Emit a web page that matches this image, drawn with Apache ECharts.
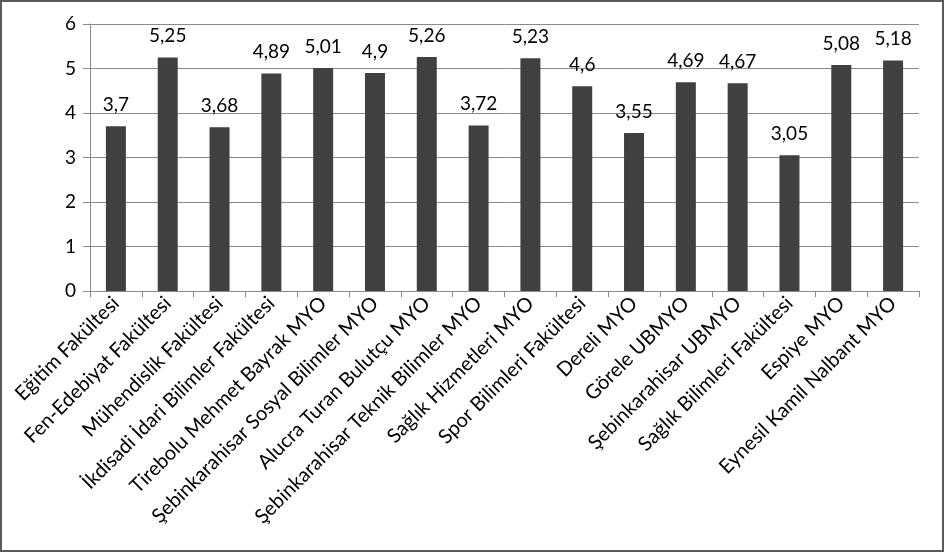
<!DOCTYPE html>
<html><head><meta charset="utf-8">
<script src="https://cdn.jsdelivr.net/npm/echarts@6/dist/echarts.min.js"></script>
<style>
html,body{margin:0;padding:0;background:#fff;}
#c{position:absolute;left:0;top:0;width:944px;height:552px;}
#frame{position:absolute;left:0;top:0;width:940px;height:548px;border:2px solid #5a5a5a;pointer-events:none;}
</style></head>
<body>
<div id="c"></div><div id="frame"></div>
<script>
const categories = ["Eğitim Fakültesi","Fen-Edebiyat Fakültesi","Mühendislik Fakültesi","İkdisadi İdari Bilimler Fakültesi","Tirebolu Mehmet Bayrak MYO","Şebinkarahisar Sosyal Bilimler MYO","Alucra Turan Bulutçu MYO","Şebinkarahisar Teknik Bilimler MYO","Sağlık Hizmetleri MYO","Spor Bilimleri Fakültesi","Dereli MYO","Görele UBMYO","Şebinkarahisar UBMYO","Sağlık Bilimleri Fakültesi","Espiye MYO","Eynesil Kamil Nalbant MYO"];
const values = [3.7,5.25,3.68,4.89,5.01,4.9,5.26,3.72,5.23,4.6,3.55,4.69,4.67,3.05,5.08,5.18];
const yTicks = [0,1,2,3,4,5,6];

const chart = echarts.init(document.getElementById('c'), null, {renderer:'canvas'});
const font = "Lato, 'Open Sans', sans-serif";
chart.setOption({
  animation:false,
  backgroundColor:'#fff',
  grid:{left:90,right:25,top:24,bottom:261,containLabel:false},
  xAxis:{type:'category',data:categories,boundaryGap:true,
    axisLine:{lineStyle:{color:'#8a8a8a',width:1}},
    axisTick:{show:true,alignWithLabel:false,length:6,lineStyle:{color:'#8a8a8a'}},
    axisLabel:{interval:0,rotate:45,color:'#000',fontFamily:font,fontSize:20,margin:9}
  },
  yAxis:{type:'value',min:yTicks[0],max:yTicks[yTicks.length-1],interval:1,
    axisLine:{show:true,lineStyle:{color:'#8a8a8a'}},
    axisTick:{show:true,length:7,lineStyle:{color:'#8a8a8a'}},
    splitLine:{lineStyle:{color:'#8a8a8a',width:1}},
    axisLabel:{color:'#000',fontFamily:font,fontSize:19,margin:14}
  },
  series:[{type:'bar',data:values,barWidth:20,itemStyle:{color:'#404040'},
    label:{show:true,position:'top',distance:12,color:'#000',fontFamily:font,fontSize:19,
      formatter:p=>String(p.value).replace('.',',')}}]
});
</script>
</body></html>
